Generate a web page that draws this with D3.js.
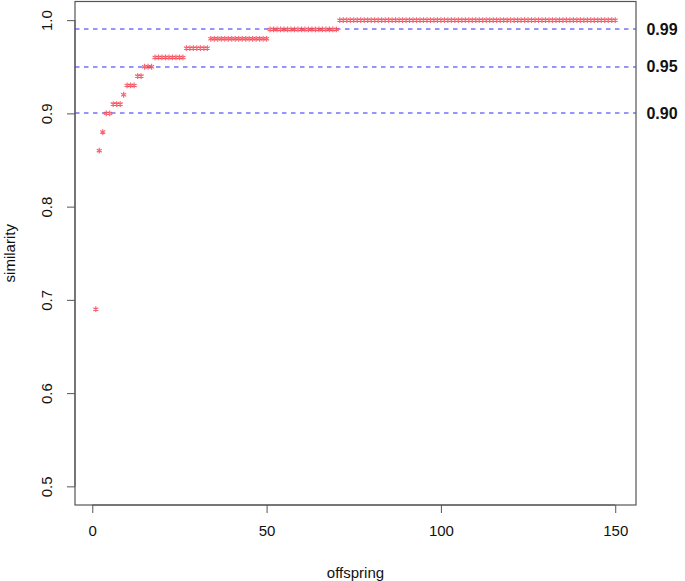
<!DOCTYPE html>
<html>
<head>
<meta charset="utf-8">
<script src="https://cdn.jsdelivr.net/npm/d3@7"></script>
<style>
  html, body { margin: 0; padding: 0; background: #fff; }
  svg { display: block; }
</style>
</head>
<body>
<svg id="chart" width="685" height="581"></svg>
<script>
// ---- data ----
const similarity = [
  0.69, 0.86, 0.88, 0.90, 0.90, 0.91, 0.91, 0.91, 0.92, 0.93,
  0.93, 0.93, 0.94, 0.94, 0.95, 0.95, 0.95, 0.96, 0.96, 0.96,
  0.96, 0.96, 0.96, 0.96, 0.96, 0.96, 0.97, 0.97, 0.97, 0.97,
  0.97, 0.97, 0.97, 0.98, 0.98, 0.98, 0.98, 0.98, 0.98, 0.98,
  0.98, 0.98, 0.98, 0.98, 0.98, 0.98, 0.98, 0.98, 0.98, 0.98,
  0.99, 0.99, 0.99, 0.99, 0.99, 0.99, 0.99, 0.99, 0.99, 0.99,
  0.99, 0.99, 0.99, 0.99, 0.99, 0.99, 0.99, 0.99, 0.99, 0.99,
  1.00, 1.00, 1.00, 1.00, 1.00, 1.00, 1.00, 1.00, 1.00, 1.00,
  1.00, 1.00, 1.00, 1.00, 1.00, 1.00, 1.00, 1.00, 1.00, 1.00,
  1.00, 1.00, 1.00, 1.00, 1.00, 1.00, 1.00, 1.00, 1.00, 1.00,
  1.00, 1.00, 1.00, 1.00, 1.00, 1.00, 1.00, 1.00, 1.00, 1.00,
  1.00, 1.00, 1.00, 1.00, 1.00, 1.00, 1.00, 1.00, 1.00, 1.00,
  1.00, 1.00, 1.00, 1.00, 1.00, 1.00, 1.00, 1.00, 1.00, 1.00,
  1.00, 1.00, 1.00, 1.00, 1.00, 1.00, 1.00, 1.00, 1.00, 1.00,
  1.00, 1.00, 1.00, 1.00, 1.00, 1.00, 1.00, 1.00, 1.00, 1.00
];
const offspring = similarity.map((_, i) => i + 1);
const xTicks = [0, 50, 100, 150];
const yTicks = [0.5, 0.6, 0.7, 0.8, 0.9, 1.0];
const thresholds = [0.99, 0.95, 0.90];
const thresholdLabels = ["0.99", "0.95", "0.90"];

// ---- layout ----
const svg = d3.select("#chart");
const plot = { left: 75, right: 636, top: 1.5, bottom: 505 };
const x = d3.scaleLinear().domain([-4.96, 155.96]).range([plot.left, plot.right]);
const y = d3.scaleLinear().domain([0.48, 1.02]).range([plot.bottom, plot.top]);
const font = "Liberation Sans, Arial, Helvetica, sans-serif";

// threshold dashed lines
svg.append("g").selectAll("line").data(thresholds).join("line")
  .attr("x1", plot.left).attr("x2", plot.right)
  .attr("y1", d => Math.round(y(d))).attr("y2", d => Math.round(y(d)))
  .attr("stroke", "#2e2ef5").attr("stroke-width", 1.2)
  .attr("stroke-dasharray", "4.5,4.5");

// points (asterisks)
const r = 2.9;
const ast = [];
for (let k = 0; k < 3; k++) {
  const a = Math.PI / 2 + k * Math.PI / 3;
  ast.push(`M${(-r * Math.cos(a)).toFixed(2)},${(-r * Math.sin(a)).toFixed(2)}L${(r * Math.cos(a)).toFixed(2)},${(r * Math.sin(a)).toFixed(2)}`);
}
svg.append("g").selectAll("path").data(similarity).join("path")
  .attr("transform", (d, i) => `translate(${x(offspring[i])},${y(d)})`)
  .attr("d", ast.join(""))
  .attr("stroke", "#f5404f").attr("stroke-width", 1.2).attr("fill", "none")
  .attr("opacity", 0.8);

// box
svg.append("rect")
  .attr("x", plot.left).attr("y", plot.top)
  .attr("width", plot.right - plot.left).attr("height", plot.bottom - plot.top)
  .attr("fill", "none").attr("stroke", "#555").attr("stroke-width", 1.2);

// x axis
const xAxis = d3.axisBottom(x).tickValues(xTicks).tickSize(8).tickPadding(12).tickFormat(d3.format("d"));
const gx = svg.append("g").attr("transform", `translate(0,${plot.bottom})`).call(xAxis);
gx.select(".domain").attr("d", `M${x(0)},0H${x(150)}`).attr("stroke", "#555");
gx.selectAll(".tick line").attr("stroke", "#555");
gx.selectAll("text").attr("font-family", font).attr("font-size", 15).attr("fill", "#111");

// y axis
const yAxis = d3.axisLeft(y).tickValues(yTicks).tickSize(8).tickFormat(d3.format(".1f"));
const gy = svg.append("g").attr("transform", `translate(${plot.left},0)`).call(yAxis);
gy.select(".domain").attr("d", `M0,${y(0.5)}V${y(1.0)}`).attr("stroke", "#555");
gy.selectAll(".tick line").attr("stroke", "#555");
gy.selectAll("text")
  .attr("font-family", font).attr("font-size", 15).attr("fill", "#111")
  .attr("x", null).attr("dy", null)
  .attr("text-anchor", "middle")
  .attr("transform", "translate(-28,0) rotate(-90)")
  .attr("dy", "0.35em");

// right threshold labels
svg.append("g").selectAll("text").data(thresholds).join("text")
  .attr("x", 662).attr("y", d => y(d))
  .attr("dy", "0.35em")
  .attr("text-anchor", "middle")
  .attr("font-family", font).attr("font-size", 16).attr("font-weight", "bold")
  .attr("fill", "#111")
  .text((d, i) => thresholdLabels[i]);

// axis titles
svg.append("text")
  .attr("x", (plot.left + plot.right) / 2).attr("y", 578)
  .attr("text-anchor", "middle")
  .attr("font-family", font).attr("font-size", 15).attr("fill", "#111")
  .text("offspring");
svg.append("text")
  .attr("transform", `translate(15,${(plot.top + plot.bottom) / 2}) rotate(-90)`)
  .attr("text-anchor", "middle")
  .attr("font-family", font).attr("font-size", 15).attr("fill", "#111")
  .text("similarity");
</script>
</body>
</html>
